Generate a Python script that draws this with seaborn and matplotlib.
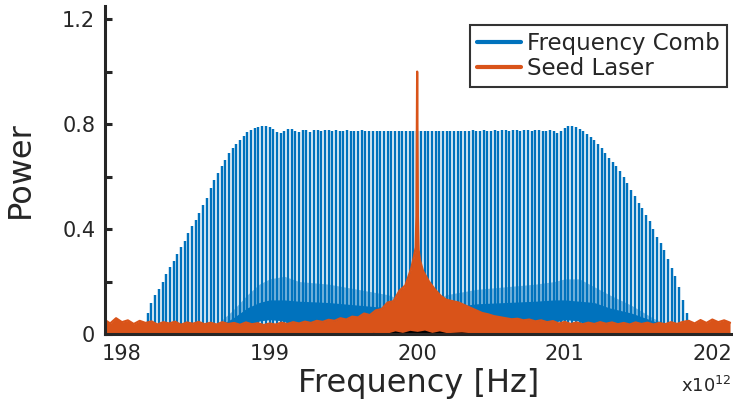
import numpy as np
import pandas as pd
import matplotlib
matplotlib.use("Agg")
import matplotlib.pyplot as plt
import seaborn as sns
from matplotlib.lines import Line2D

# ---------------- data ----------------
# Frequency comb: evenly spaced teeth (THz), 25 GHz spacing, centred on 200 THz
comb_start = 198.175
comb_spacing = 0.025
comb_heights = [
    0.08, 0.12, 0.15, 0.17, 0.20, 0.23, 0.255, 0.28, 0.305, 0.33,
    0.355, 0.385, 0.41, 0.435, 0.46, 0.49, 0.52, 0.555, 0.585, 0.615,
    0.64, 0.665, 0.69, 0.71, 0.725, 0.74, 0.755, 0.768, 0.777, 0.784,
    0.789, 0.792, 0.792, 0.789, 0.782, 0.770, 0.765, 0.774, 0.780, 0.780,
    0.772, 0.768, 0.778, 0.778, 0.771, 0.777, 0.777, 0.772, 0.776, 0.776,
    0.774, 0.776, 0.775, 0.775, 0.776, 0.775, 0.775, 0.775, 0.776, 0.775,
    0.775, 0.775, 0.775, 0.775, 0.775, 0.775, 0.775, 0.775, 0.775, 0.775,
    0.775, 0.775, 0.775, 0.775, 0.775, 0.775, 0.775, 0.775, 0.775, 0.775,
    0.775, 0.775, 0.775, 0.775, 0.775, 0.775, 0.775, 0.775, 0.776, 0.775,
    0.775, 0.776, 0.775, 0.775, 0.776, 0.774, 0.776, 0.776, 0.773, 0.777,
    0.776, 0.773, 0.777, 0.776, 0.772, 0.777, 0.776, 0.772, 0.775, 0.776,
    0.772, 0.765, 0.775, 0.786, 0.791, 0.792, 0.789, 0.782, 0.774, 0.764,
    0.752, 0.740, 0.725, 0.708, 0.690, 0.672, 0.655, 0.640, 0.620, 0.600,
    0.575, 0.550, 0.525, 0.500, 0.480, 0.455, 0.430, 0.400, 0.370, 0.345,
    0.320, 0.285, 0.250, 0.220, 0.180, 0.130, 0.080,
]

# low-level sideband "floor" of the comb
floor_freq = [198.55, 198.65, 198.75, 198.85, 198.93, 199.0, 199.1, 199.2, 199.4,
              199.6, 199.8, 199.9, 200.0, 200.1, 200.2, 200.4, 200.6, 200.8,
              200.93, 201.0, 201.1, 201.2, 201.3, 201.45, 201.6, 201.7, 201.8]
floor_low = [0.0, 0.0, 0.0, 0.02, 0.05, 0.055, 0.05, 0.0, 0.0,
             0.0, 0.0, 0.0, 0.0, 0.0, 0.0, 0.0, 0.0, 0.0,
             0.045, 0.055, 0.05, 0.0, 0.0, 0.0, 0.0, 0.0, 0.0]
floor_high = [0.0, 0.03, 0.06, 0.10, 0.12, 0.13, 0.13, 0.125, 0.12,
              0.11, 0.10, 0.08, 0.15, 0.08, 0.10, 0.115, 0.12, 0.125,
              0.13, 0.13, 0.125, 0.12, 0.10, 0.08, 0.05, 0.03, 0.0]
floor_top = [0.0, 0.04, 0.09, 0.15, 0.19, 0.21, 0.22, 0.20, 0.19,
             0.17, 0.15, 0.13, 0.15, 0.13, 0.15, 0.17, 0.18, 0.19,
             0.20, 0.21, 0.21, 0.18, 0.15, 0.11, 0.06, 0.035, 0.0]

# Seed laser spectrum: noise floor sampled every 0.04 THz plus the narrow line
seed_grid_start = 197.88
seed_grid_step = 0.04
seed_floor = [
    0.055, 0.040, 0.060, 0.045, 0.052, 0.038, 0.050, 0.042, 0.048, 0.036,
    0.045, 0.040, 0.047, 0.035, 0.044, 0.039, 0.046, 0.037, 0.043, 0.036,
    0.045, 0.038, 0.042, 0.035, 0.044, 0.037, 0.041, 0.034, 0.040, 0.036,
    0.043, 0.038, 0.045, 0.040, 0.047, 0.042, 0.050, 0.046, 0.054, 0.050,
    0.060, 0.055, 0.066, 0.063, 0.078, 0.072, 0.090, 0.095, 0.120, 0.125,
    0.165, 0.185, 0.250, 0.290, 0.240, 0.200, 0.170, 0.145, 0.130, 0.125,
    0.120, 0.110, 0.100, 0.090, 0.080, 0.075, 0.068, 0.064, 0.060, 0.056,
    0.058, 0.052, 0.055, 0.048, 0.052, 0.045, 0.049, 0.040, 0.046, 0.038,
    0.044, 0.037, 0.043, 0.038, 0.045, 0.039, 0.044, 0.037, 0.042, 0.036,
    0.044, 0.038, 0.043, 0.036, 0.042, 0.037, 0.045, 0.038, 0.046, 0.050,
    0.040, 0.053, 0.042, 0.055, 0.045, 0.052, 0.043,
]
seed_peak_freq = [199.98, 199.99, 199.995, 200.0, 200.005, 200.01, 200.02]
seed_peak_power = [0.30, 0.33, 0.45, 1.0, 0.45, 0.32, 0.28]

# faint black trace near the bottom around 200 THz
black_freq = [199.6, 199.7, 199.8, 199.85, 199.9, 199.95, 200.0, 200.05, 200.1, 200.15, 200.2, 200.3, 200.45]
black_power = [0.0, 0.006, 0.004, 0.012, 0.006, 0.014, 0.010, 0.015, 0.006, 0.012, 0.005, 0.008, 0.0]

# axis texts
xticks = [198, 199, 200, 201, 202]
yticks_major = [0, 0.4, 0.8, 1.2]
yticks_minor = [0.2, 0.6, 1.0]
xlabel = "Frequency [Hz]"
ylabel = "Power"
labels = ["Frequency Comb", "Seed Laser"]

# ---------------- figure ----------------
sns.set_theme(style="white")
plt.rcParams["font.family"] = ["DejaVu Sans"]

BLUE = "#0072BD"
ORANGE = "#D95319"
DARK = "#262626"

W, H = 733, 407
fig = plt.figure(figsize=(W / 100, H / 100), dpi=100)
ax_left, ax_right = 105, 733
ax_top, ax_bottom = 6, 334
ax = fig.add_axes([ax_left / W, 1 - ax_bottom / H, (ax_right - ax_left) / W, (ax_bottom - ax_top) / H])

# comb floor
ax.fill_between(floor_freq, floor_low, floor_top, color=BLUE, alpha=0.45, lw=0, zorder=1)
ax.fill_between(floor_freq, floor_low, floor_high, color=BLUE, lw=0, zorder=1.2)

# comb teeth
tooth_freq = comb_start + comb_spacing * np.arange(len(comb_heights))
ax.vlines(tooth_freq, 0, comb_heights, colors=BLUE, linewidth=1.75, zorder=2)

# seed laser
seed_df = pd.DataFrame({
    "freq": list(seed_grid_start + seed_grid_step * np.arange(len(seed_floor))) + seed_peak_freq,
    "power": seed_floor + seed_peak_power,
})
seed_df["freq"] = seed_df["freq"].round(4)
seed_df = seed_df.drop_duplicates("freq", keep="last").sort_values("freq")
ax.fill_between(seed_df["freq"], 0, seed_df["power"], color=ORANGE, lw=0, zorder=3)
sns.lineplot(data=seed_df, x="freq", y="power", ax=ax, color=ORANGE, linewidth=1.6,
             estimator=None, sort=False, zorder=3.5)

ax.fill_between(black_freq, 0, black_power, color="black", lw=0, zorder=3.8)

# axes styling
ax.set_xlim(197.885, 202.14)
ax.set_ylim(0, 1.25)
ax.set_xticks(xticks)
ax.set_xticklabels([str(t) for t in xticks])
ax.set_yticks(yticks_major)
ax.set_yticklabels(["0", "0.4", "0.8", "1.2"])
ax.set_yticks(yticks_minor, minor=True)
ax.tick_params(axis="y", which="both", direction="in", length=5, width=2.2, color=DARK,
               labelsize=15, labelcolor=DARK, pad=7, left=True)
ax.tick_params(axis="x", which="both", length=0, labelsize=15, labelcolor=DARK, pad=7)
for s in ["top", "right"]:
    ax.spines[s].set_visible(False)
for s in ["left", "bottom"]:
    ax.spines[s].set_color(DARK)
    ax.spines[s].set_linewidth(2.2)
    ax.spines[s].set_zorder(5)
ax.set_xlabel(xlabel, fontsize=23, color=DARK, labelpad=3)
ax.set_ylabel(ylabel, fontsize=23, color=DARK, labelpad=19)
ax.grid(False)

fig.text(731 / W, 1 - 392 / H, r"x10$^{12}$", fontsize=13, color=DARK, ha="right", va="baseline")

handles = [Line2D([], [], color=BLUE, lw=3), Line2D([], [], color=ORANGE, lw=3)]
leg = ax.legend(handles, labels, loc="upper right",
                bbox_to_anchor=((727 - ax_left) / (ax_right - ax_left), (ax_bottom - 25) / (ax_bottom - ax_top)),
                borderaxespad=0, fontsize=16.5, frameon=True, fancybox=False,
                handlelength=1.9, handletextpad=0.3, labelspacing=0.1, borderpad=0.3)
leg.get_frame().set_edgecolor("black")
leg.get_frame().set_linewidth(1.5)
leg.set_zorder(10)
for t in leg.get_texts():
    t.set_color(DARK)

fig.savefig("out.png", dpi=100)
